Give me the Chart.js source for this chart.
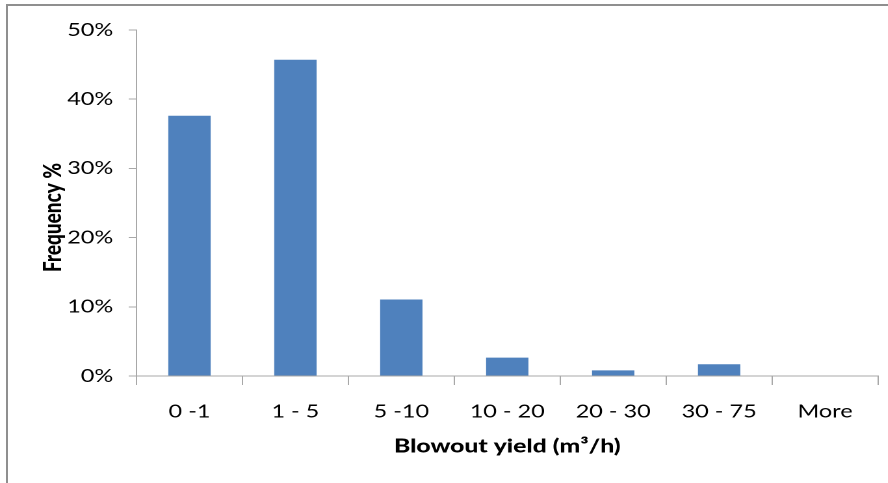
<!DOCTYPE html>
<html>
<head>
<meta charset="utf-8">
<script src="https://cdn.jsdelivr.net/npm/chart.js@4"></script>
<style>
  html, body { margin: 0; padding: 0; background: #fff; }
  body { width: 888px; height: 483px; overflow: hidden; position: relative; }
  #frame {
    position: absolute; left: 6px; top: 4px; right: -10px; bottom: -10px;
    border-left: 2px solid #8f8f8f; border-top: 2px solid #8f8f8f;
  }
  /* the chart is laid out narrow and widened horizontally */
  #wrap {
    position: absolute; left: 0; top: 0; width: 683px; height: 483px;
    transform: scaleX(1.3); transform-origin: 0 0;
  }
</style>
</head>
<body>
<div id="frame"></div>
<div id="wrap"><canvas id="c"></canvas></div>
<script>
const categories = ['0 -1', '1 - 5', '5 -10', '10 - 20', '20 - 30', '30 - 75', 'More'];
const frequency = [37.6, 45.7, 11.05, 2.66, 0.82, 1.69, 0];
const yTicks = [0, 10, 20, 30, 40, 50];
const xTitle = 'Blowout yield (m\u00B3/h)';
const yTitle = 'Frequency %';

const FONT = 'Lato';
const AXIS = '#a8a8a8';

// rotated y-axis title, placed a little below the plot centre
const yTitlePlugin = {
  id: 'yTitle',
  afterDraw(chart) {
    const { ctx, chartArea } = chart;
    ctx.save();
    ctx.translate(41, (chartArea.top + chartArea.bottom) / 2 + 14.5);
    ctx.rotate(-Math.PI / 2);
    ctx.font = '900 19px ' + FONT;
    ctx.fillStyle = '#000';
    ctx.textAlign = 'center';
    ctx.textBaseline = 'middle';
    ctx.fillText(yTitle, 0, 0);
    ctx.restore();
  }
};

new Chart(document.getElementById('c'), {
  type: 'bar',
  data: {
    labels: categories,
    datasets: [{
      data: frequency,
      backgroundColor: '#4f81bd',
      borderWidth: 0,
      categoryPercentage: 1,
      barPercentage: 0.4
    }]
  },
  plugins: [yTitlePlugin],
  options: {
    responsive: true,
    maintainAspectRatio: false,
    devicePixelRatio: 2,
    animation: false,
    layout: { padding: { top: 30, right: 7.6, bottom: 0, left: 0 } },
    plugins: { legend: { display: false }, tooltip: { enabled: false } },
    scales: {
      x: {
        offset: true,
        border: { display: true, color: AXIS, width: 1 },
        grid: { display: true, offset: true, drawOnChartArea: false, drawTicks: true, tickLength: 9, color: AXIS },
        ticks: { color: '#000', padding: 16, font: { family: FONT, size: 18 }, maxRotation: 0, autoSkip: false },
        title: { display: true, text: xTitle, color: '#000', font: { family: FONT, size: 19, weight: '900' }, padding: { top: 0, bottom: 25 } },
        afterFit(scale) { scale.height = 107; }
      },
      y: {
        min: yTicks[0],
        max: yTicks[yTicks.length - 1],
        border: { display: true, color: AXIS, width: 1 },
        grid: { display: true, drawOnChartArea: false, drawTicks: true, tickLength: 6, color: AXIS },
        ticks: {
          color: '#000', padding: 12, font: { family: FONT, size: 18 },
          callback: (v) => v + '%'
        },
        afterBuildTicks(scale) { scale.ticks = yTicks.map(v => ({ value: v })); },
        afterFit(scale) { scale.width = 105; }
      }
    }
  }
});
</script>
</body>
</html>
